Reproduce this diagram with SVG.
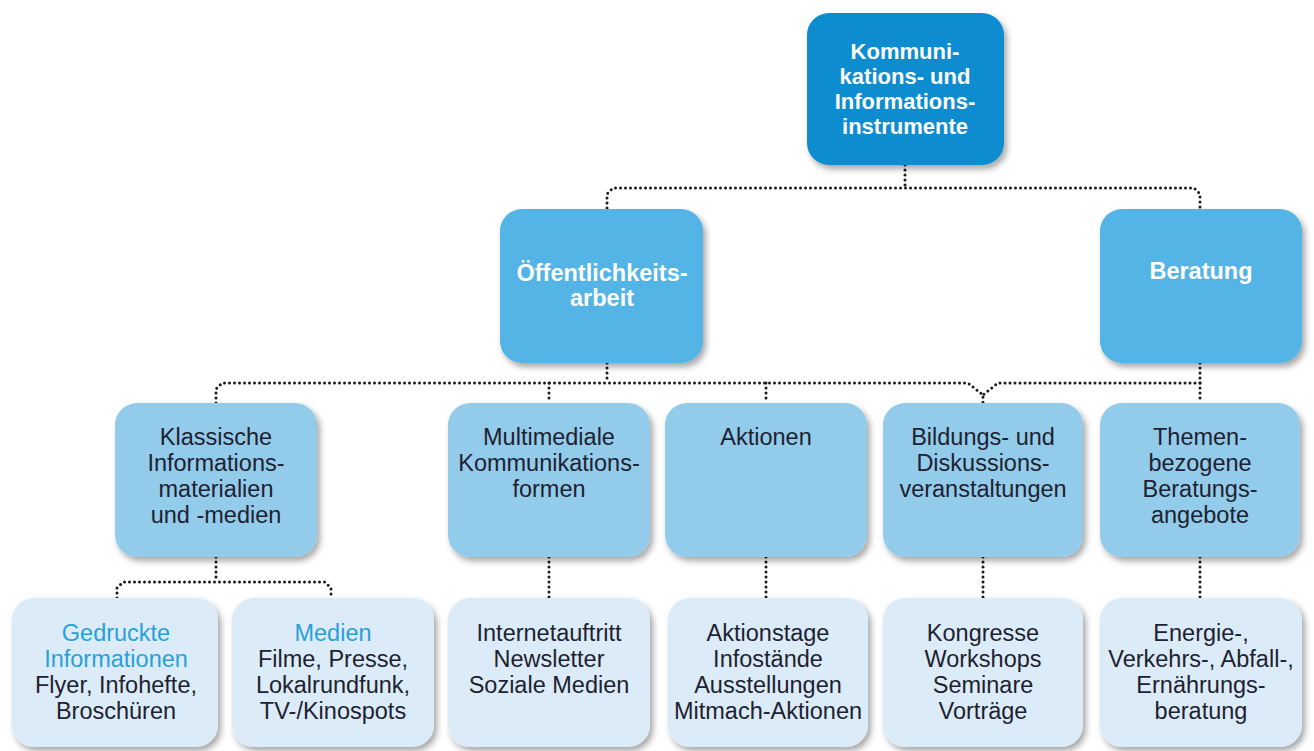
<svg xmlns="http://www.w3.org/2000/svg" width="1314" height="751" viewBox="0 0 1314 751">
<style>
.t{font-family:"Liberation Sans",Arial,sans-serif;text-anchor:middle}
.w{fill:#ffffff;font-weight:bold}
.d{fill:#1e2230;font-size:23.5px}
.b{fill:#2a9fd8;font-size:23.5px}
.c{fill:none;stroke:#1a1a1a;stroke-width:3;stroke-dasharray:0 5;stroke-linecap:round;stroke-linejoin:round}
.n0{fill:#0b8dd0}
.n1{fill:#52b4e5}
.n2{fill:#93cbeb}
.n3{fill:#dbecf8}
</style>
<defs>
<filter id="sh" x="-10%" y="-10%" width="125%" height="125%">
<feDropShadow dx="3" dy="4" stdDeviation="3" flood-color="#000" flood-opacity="0.35"/>
</filter>
</defs>
<rect width="1314" height="751" fill="#ffffff"/>
<g id="connectors">
<path class="c" d="M905,165 V186"/>
<path class="c" d="M607,208 V194 L613,188 H1194 L1200,194 V208"/>
<path class="c" d="M607,363 V383"/>
<path class="c" d="M216,403 V389 L222,383 H968 L983,395 V403"/>
<path class="c" d="M1200,363 V403"/>
<path class="c" d="M1200,383 H998 L983,395"/>
<path class="c" d="M549,383 V403"/>
<path class="c" d="M766,383 V403"/>
<path class="c" d="M216,557 V580"/>
<path class="c" d="M117,598 V588 L123,582 H325 L331,588 V598"/>
<path class="c" d="M549,557 V598"/>
<path class="c" d="M766,557 V598"/>
<path class="c" d="M983,557 V598"/>
<path class="c" d="M1200,557 V598"/>
</g>
<g id="root">
<rect class="n0" x="807" y="13" width="197" height="152" rx="22" filter="url(#sh)"/>
<text class="t w" font-size="22" x="905"><tspan x="905" y="59">Kommuni-</tspan><tspan x="905" y="84">kations- und</tspan><tspan x="905" y="109">Informations-</tspan><tspan x="905" y="134">instrumente</tspan></text>
</g>
<g id="oeffentlichkeitsarbeit">
<rect class="n1" x="500" y="209" width="203" height="154" rx="22" filter="url(#sh)"/>
<text class="t w" font-size="23.5"><tspan x="602" y="281">Öffentlichkeits-</tspan><tspan x="602" y="306">arbeit</tspan></text>
</g>
<g id="beratung">
<rect class="n1" x="1100" y="209" width="202" height="154" rx="22" filter="url(#sh)"/>
<text class="t w" font-size="23.5" x="1201" y="279">Beratung</text>
</g>
<g id="klassische">
<rect class="n2" x="115" y="403" width="202" height="154" rx="22" filter="url(#sh)"/>
<text class="t d"><tspan x="216" y="445">Klassische</tspan><tspan x="216" y="471">Informations-</tspan><tspan x="216" y="497">materialien</tspan><tspan x="216" y="523">und -medien</tspan></text>
</g>
<g id="multimediale">
<rect class="n2" x="448" y="403" width="202" height="154" rx="22" filter="url(#sh)"/>
<text class="t d"><tspan x="549" y="445">Multimediale</tspan><tspan x="549" y="471">Kommunikations-</tspan><tspan x="549" y="497">formen</tspan></text>
</g>
<g id="aktionen">
<rect class="n2" x="665" y="403" width="202" height="154" rx="22" filter="url(#sh)"/>
<text class="t d" x="766" y="445">Aktionen</text>
</g>
<g id="bildung">
<rect class="n2" x="883" y="403" width="200" height="154" rx="22" filter="url(#sh)"/>
<text class="t d"><tspan x="983" y="445">Bildungs- und</tspan><tspan x="983" y="471">Diskussions-</tspan><tspan x="983" y="497">veranstaltungen</tspan></text>
</g>
<g id="themen">
<rect class="n2" x="1100" y="403" width="200" height="154" rx="22" filter="url(#sh)"/>
<text class="t d"><tspan x="1200" y="445">Themen-</tspan><tspan x="1200" y="471">bezogene</tspan><tspan x="1200" y="497">Beratungs-</tspan><tspan x="1200" y="523">angebote</tspan></text>
</g>
<g id="gedruckte">
<rect class="n3" x="12" y="598" width="206" height="149" rx="22" filter="url(#sh)"/>
<text class="t b"><tspan x="116" y="641">Gedruckte</tspan><tspan x="116" y="667">Informationen</tspan></text>
<text class="t d"><tspan x="116" y="693">Flyer, Infohefte,</tspan><tspan x="116" y="719">Broschüren</tspan></text>
</g>
<g id="medien">
<rect class="n3" x="232" y="598" width="202" height="149" rx="22" filter="url(#sh)"/>
<text class="t b" x="333" y="641">Medien</text>
<text class="t d"><tspan x="333" y="667">Filme, Presse,</tspan><tspan x="333" y="693">Lokalrundfunk,</tspan><tspan x="333" y="719">TV-/Kinospots</tspan></text>
</g>
<g id="internet">
<rect class="n3" x="448" y="598" width="202" height="149" rx="22" filter="url(#sh)"/>
<text class="t d"><tspan x="549" y="641">Internetauftritt</tspan><tspan x="549" y="667">Newsletter</tspan><tspan x="549" y="693">Soziale Medien</tspan></text>
</g>
<g id="aktionstage">
<rect class="n3" x="668" y="598" width="200" height="149" rx="22" filter="url(#sh)"/>
<text class="t d"><tspan x="768" y="641">Aktionstage</tspan><tspan x="768" y="667">Infostände</tspan><tspan x="768" y="693">Ausstellungen</tspan><tspan x="768" y="719">Mitmach-Aktionen</tspan></text>
</g>
<g id="kongresse">
<rect class="n3" x="883" y="598" width="200" height="149" rx="22" filter="url(#sh)"/>
<text class="t d"><tspan x="983" y="641">Kongresse</tspan><tspan x="983" y="667">Workshops</tspan><tspan x="983" y="693">Seminare</tspan><tspan x="983" y="719">Vorträge</tspan></text>
</g>
<g id="energie">
<rect class="n3" x="1100" y="598" width="202" height="149" rx="22" filter="url(#sh)"/>
<text class="t d"><tspan x="1201" y="641">Energie-,</tspan><tspan x="1201" y="667">Verkehrs-, Abfall-,</tspan><tspan x="1201" y="693">Ernährungs-</tspan><tspan x="1201" y="719">beratung</tspan></text>
</g>
</svg>
